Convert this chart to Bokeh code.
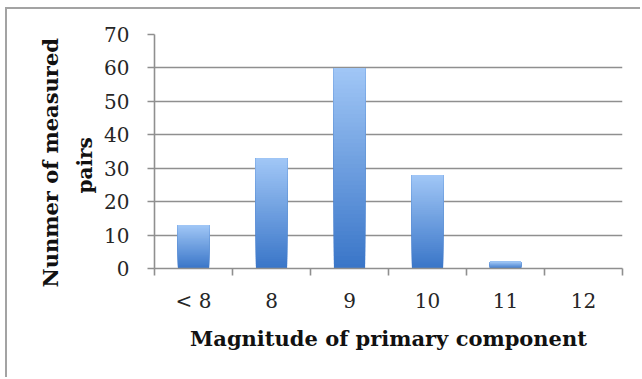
from bokeh.plotting import figure
from bokeh.models import FixedTicker, Range1d, ColumnDataSource, Title
from bokeh.embed import file_html
from bokeh.resources import INLINE

# Histogram of measured pairs by magnitude of the primary component
categories = ["< 8", "8", "9", "10", "11", "12"]
pair_counts = [13, 33, 60, 28, 2, 0]
y_ticks = [0, 10, 20, 30, 40, 50, 60, 70]
y_title_lines = ["Nunmer of measured", "pairs"]

BAR_WIDTH = 0.4
N_STEPS = 48
BOTTOM_RGB = (58, 118, 200)
TOP_RGB = (160, 198, 246)
GRID = "#8f8f8f"
FONT = "DejaVu Serif"


def mix(a, b, t):
    return "#%02x%02x%02x" % tuple(int(round(a[i] + (b[i] - a[i]) * t)) for i in range(3))


# Each bar is painted as overlapping slices from a slice start up to the bar top,
# so later (lighter) slices cover the upper part and form a vertical gradient.
lefts, rights, bottoms, tops, colors = [], [], [], [], []
for i, v in enumerate(pair_counts):
    centre = i + 0.5
    for k in range(N_STEPS):
        lefts.append(centre - BAR_WIDTH / 2)
        rights.append(centre + BAR_WIDTH / 2)
        bottoms.append(v * k / N_STEPS)
        tops.append(v)
        colors.append(mix(BOTTOM_RGB, TOP_RGB, k / (N_STEPS - 1)))

src = ColumnDataSource(dict(left=lefts, right=rights, bottom=bottoms, top=tops, color=colors))

p = figure(
    width=635, height=370,
    x_range=Range1d(0, len(categories)), y_range=Range1d(0, 70),
    output_backend="svg", toolbar_location=None,
    min_border_left=147, min_border_right=20, min_border_top=25, min_border_bottom=111,
    styles={"margin-left": "5px", "margin-top": "7px",
            "border-left": "2px solid #a3a3a3", "border-top": "2px solid #a3a3a3"},
)
p.outline_line_color = None
p.background_fill_color = "white"
p.border_fill_color = "white"

p.quad(left="left", right="right", bottom="bottom", top="top",
       fill_color="color", line_color=None, source=src)

# y axis
p.yaxis.ticker = FixedTicker(ticks=y_ticks, minor_ticks=[])
p.yaxis.axis_line_color = GRID
p.yaxis.axis_line_width = 1.6
p.yaxis.major_tick_line_color = GRID
p.yaxis.major_tick_line_width = 1.6
p.yaxis.major_tick_out = 7
p.yaxis.major_tick_in = 0
p.yaxis.major_label_standoff = 18
p.yaxis.major_label_text_font = FONT
p.yaxis.major_label_text_font_size = "20px"
p.yaxis.major_label_text_color = "#262626"

# two-line y title; each line is its own title anchored at the bottom of the
# frame and shifted along it, the inner line going in first
for line, gap, shift, size in zip(reversed(y_title_lines), (10, 6), (75, -19), ("20px", "21px")):
    p.add_layout(Title(
        text=line, align="left", offset=shift, standoff=gap,
        text_font=FONT, text_font_style="bold", text_font_size=size,
        text_color="#111111",
    ), "left")

# x axis: labels at bar centres, tick marks at category boundaries
centres = [i + 0.5 for i in range(len(categories))]
bounds = list(range(len(categories) + 1))
p.xaxis.ticker = FixedTicker(ticks=centres, minor_ticks=bounds)
p.xaxis.major_label_overrides = {c: lab for c, lab in zip(centres, categories)}
p.xaxis.axis_line_color = GRID
p.xaxis.axis_line_width = 1.6
p.xaxis.major_tick_line_color = None
p.xaxis.minor_tick_line_color = GRID
p.xaxis.minor_tick_line_width = 1.6
p.xaxis.minor_tick_out = 7
p.xaxis.minor_tick_in = 0
p.xaxis.major_tick_out = 7
p.xaxis.major_tick_in = 0
p.xaxis.major_label_standoff = 13
p.xaxis.major_label_text_font = FONT
p.xaxis.major_label_text_font_size = "20px"
p.xaxis.major_label_text_color = "#262626"
p.xaxis.axis_label = "Magnitude of primary component"
p.xaxis.axis_label_text_font = FONT
p.xaxis.axis_label_text_font_style = "bold"
p.xaxis.axis_label_text_font_size = "21px"
p.xaxis.axis_label_text_color = "#111111"
p.xaxis.axis_label_standoff = 10

p.xgrid.visible = False
p.ygrid.ticker = FixedTicker(ticks=y_ticks, minor_ticks=[])
p.ygrid.grid_line_color = GRID
p.ygrid.grid_line_width = 1.6

open("out.html", "w").write(file_html(p, INLINE))
